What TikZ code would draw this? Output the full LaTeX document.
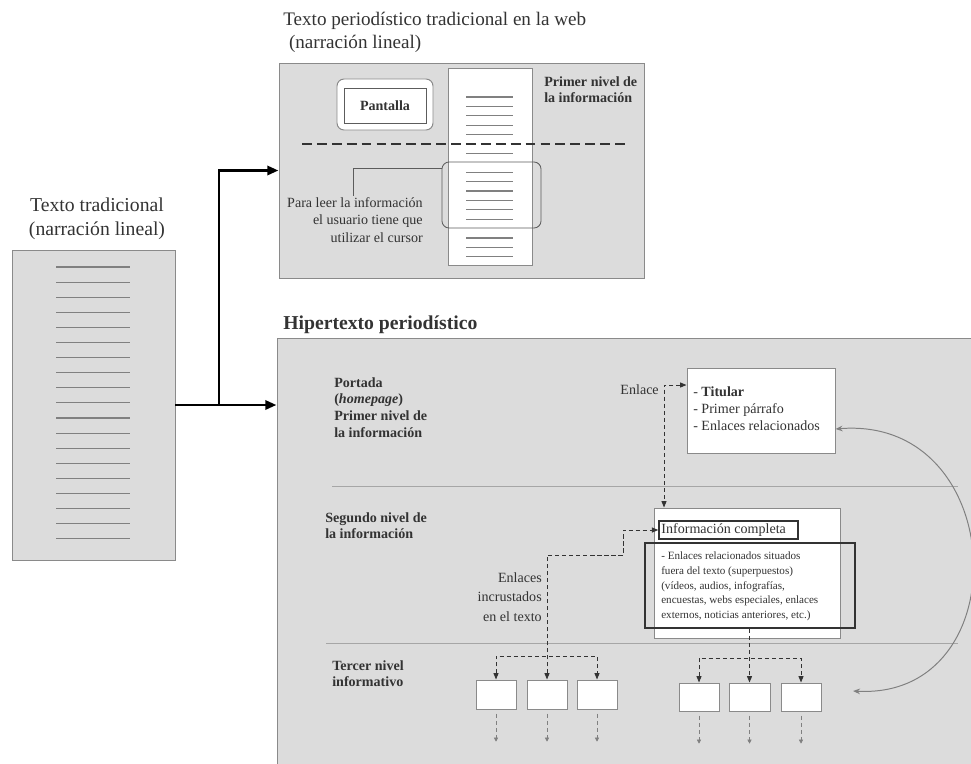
\documentclass[tikz,border=0pt]{standalone}
\usepackage{fontspec}
\setmainfont{Liberation Serif}
\usetikzlibrary{arrows.meta,fit}
\definecolor{panelgray}{HTML}{DCDCDC}
\definecolor{edgegray}{HTML}{8A8A8A}
\definecolor{rulegray}{HTML}{808080}
\definecolor{inkgray}{HTML}{333333}

\begin{document}
\begin{tikzpicture}[x=0.025cm, y=-0.025cm,
        >={Triangle[length=4.5pt,width=3.5pt]},
        panel/.style={draw=edgegray, fill=panelgray, line width=0.7pt, inner sep=0pt},
        sheet/.style={draw=edgegray, fill=white, line width=0.7pt, inner sep=0pt},
        rule/.style={draw=rulegray, line width=0.8pt},
        divider/.style={draw=rulegray!70, line width=0.6pt},
        heading/.style={font=\fontsize{14}{17}\selectfont, text=inkgray, inner sep=0pt},
        tag/.style={font=\fontsize{10}{12}\selectfont\bfseries, text=inkgray, align=left, inner sep=0pt},
        note/.style={font=\fontsize{10}{12.4}\selectfont, text=inkgray, inner sep=0pt},
        fine/.style={font=\fontsize{7.9}{10.4}\selectfont, text=inkgray, align=left, inner sep=0pt},
        main/.style={line width=2.1pt, -{Triangle[length=8pt,width=6.5pt]}},
        link/.style={draw=inkgray, line width=0.7pt, dash pattern=on 3pt off 2pt},
        stub/.style={draw=rulegray, line width=0.6pt, dash pattern=on 3pt off 2pt, -{Triangle[length=3pt,width=3pt]}},
        cut/.style={draw=inkgray, line width=1pt, dash pattern=on 7pt off 3.6pt},
        loopback/.style={draw=rulegray, line width=0.7pt, {Stealth[length=5pt,width=4pt]}-{Stealth[length=5pt,width=4pt]}}]
        \useasboundingbox (0,0) rectangle (971,763);
        \node[panel, fit={(12,250) (175,560)}] (doc) {};
        \node[panel, fit={(279,63) (644,278)}] (web) {};
        \node[panel, fit={(277,338) (1000,800)}] (hyp) {};
        \foreach \k in {0,...,18}
            \draw[rule] (56,{267+15.1*\k}) -- (130,{267+15.1*\k});
        \node[heading, align=center] (docttl) at (97,219) {Texto tradicional\\(narración lineal)};
        \node[heading, font=\fontsize{13.6}{16.5}\selectfont, align=left, anchor=north west] (webttl) at (283,12) {Texto periodístico tradicional en la web\\\hspace*{0.3em}(narración lineal)};
        \node[heading, font=\fontsize{14}{17}\selectfont\bfseries, anchor=north west] (hypttl) at (283,316) {Hipertexto periodístico};
        \coordinate (fork) at (219,405);
        \draw[main] (doc.east) -- (hyp.west |- doc.east);
        \draw[main] (fork) |- (web.west);
        \node[sheet, fit={(448,68) (532,265)}] (pag) {};
        \foreach \k in {0,1,2,3,4,6,8,9,10,11,12,13,15,16,17}
            \draw[rule] (466,{97+9.4*\k}) -- (513,{97+9.4*\k});
        \node[sheet, rounded corners=5pt, fit={(337,79) (433,130)}] (frm) {};
        \node[sheet, draw=inkgray!80, fit={(344,88) (426,123)}] (scr) {};
        \node[tag] (scrtxt) at (scr.center) {Pantalla};
        \draw[cut] (302,144) -- (626,144);
        \node[draw=inkgray!80, rounded corners=5pt, line width=0.6pt, inner sep=0pt, fit={(442,162) (541,228)}] (cur) {};
        \node[note, align=right, anchor=north east] (curtxt) at (423,197) {Para leer la información\\el usuario tiene que\\utilizar el cursor};
        \coordinate (curend) at (353,196);
        \draw[draw=inkgray!80, line width=0.6pt] (cur.west |- 0,168) -| (curend);
        \node[tag, anchor=north west] (lvl1) at (544,76) {Primer nivel de\\la información};
        \draw[divider] (332,486) -- (958,486);
        \draw[divider] (326,643) -- (958,643);
        \node[tag, anchor=north west] (lvlp) at (334,377) {Portada\\(\textit{homepage})\\Primer nivel de\\la información};
        \node[tag, anchor=north west] (lvl2) at (325,512) {Segundo nivel de\\la información};
        \node[tag, anchor=north west] (lvl3) at (332,660) {Tercer nivel\\informativo};
        \node[sheet, fit={(687,368) (835,453)}] (tit) {};
        \node[note, align=left, anchor=north west] (tittxt) at (693,386) {- \textbf{Titular}\\- Primer párrafo\\- Enlaces relacionados};
        \node[sheet, fit={(654,508) (840,638)}] (sec) {};
        \node[draw=inkgray, fill=white, line width=1pt, inner sep=0pt, fit={(659,521) (798,539)}] (inf) {};
        \node[note, anchor=west] (inftxt) at ([xshift=2pt]inf.west) {Información completa};
        \node[draw=inkgray, line width=1.1pt, inner sep=0pt, fit={(645,543) (855,628)}] (ext) {};
        \node[fine, anchor=north west] (exttxt) at (661,552) {- Enlaces relacionados situados\\fuera del texto (superpuestos)\\(vídeos, audios, infografías,\\encuestas, webs especiales, enlaces\\externos, noticias anteriores, etc.)};
        \node[note, anchor=east] (enl) at (659,390) {Enlace};
        \draw[link, <->] (tit.west |- 0,385) -| (sec.north -| 664,0);
        \node[sheet, fit={(476,680) (516,709)}] (t1) {};
        \node[sheet, fit={(527,680) (567,709)}] (t2) {};
        \node[sheet, fit={(577,680) (617,709)}] (t3) {};
        \node[sheet, fit={(679,683) (719,711)}] (t4) {};
        \node[sheet, fit={(729,683) (770,711)}] (t5) {};
        \node[sheet, fit={(781,683) (821,711)}] (t6) {};
        \node[note, font=\fontsize{10}{14}\selectfont, align=right, anchor=north east] (inc) at (542,572) {Enlaces\\incrustados\\en el texto};
        \draw[link, <->] (t2.north) |- (623,555) |- (inf.west);
        \draw[link, <->] (t1.north) |- (t2 |- 0,656) -| (t3.north);
        \draw[link, ->] (ext.south -| t5.north) -- (t5.north);
        \draw[link, <->] (t4.north) |- (t5 |- 0,658) -| (t6.north);
        \foreach \b in {t1,t2,t3,t4,t5,t6}
            \draw[stub] ([yshift=-3pt]\b.south) -- ++(0,28);
        \coordinate (back) at (853,691);
        \draw[loopback] (tit.east |- 0,429) .. controls (1010,415) and (1020,700) .. (back);
\end{tikzpicture}
\end{document}
